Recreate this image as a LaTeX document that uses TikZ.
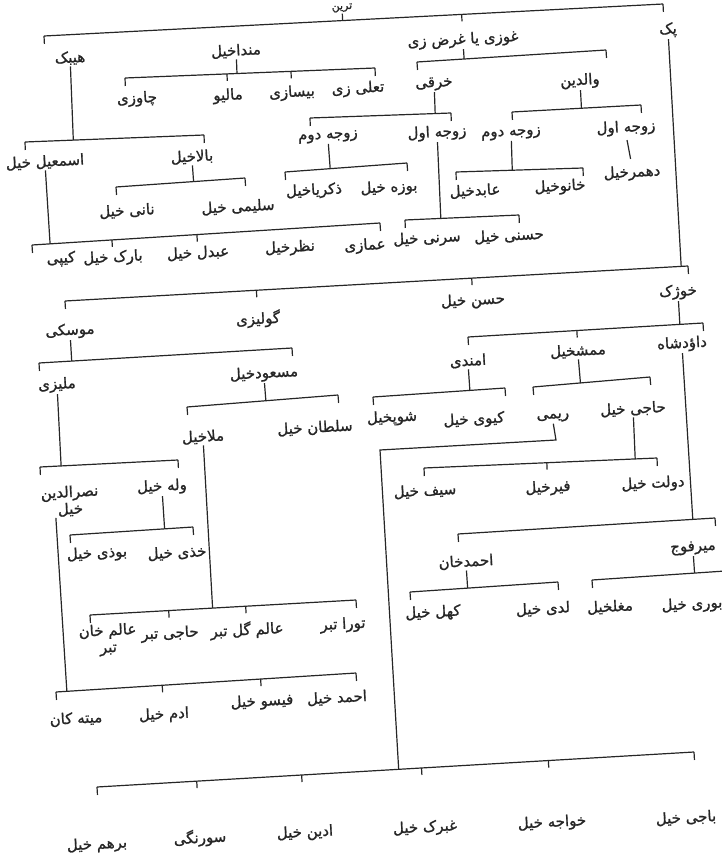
\documentclass[tikz,border=0pt]{standalone}
\usepackage{fontspec}
\usetikzlibrary{calc}
\newfontfamily\arabicfont[Script=Arabic, FakeBold=1.2]{DejaVu Sans}
\TeXXeTstate=1
\definecolor{ink}{gray}{0.15}
\newcommand{\rl}[1]{\beginR#1\endR}
% bar with a hook at each end
\newcommand{\kinbar}[2]{\draw (#1) -- (#2) (#1) -- ($(#1)!8pt!-90:(#2)$) (#2) -- ($(#2)!8pt!90:(#1)$);}
% short tick from the bar down towards a node
\newcommand{\kintick}[3]{\draw ($(#1)!(#3.north)!(#2)$) coordinate (tk) -- ($(tk)!7pt!-90:(#2)$);}
% stem from a node down to the bar
\newcommand{\kinstem}[3]{\draw (#3) -- ($(#1)!(#3)!(#2)$);}

\begin{document}
\begin{tikzpicture}[x=1pt, y=-1pt, line width=1.2pt, color=ink,
    nm/.style={font=\arabicfont\fontsize{15}{17}\selectfont, rotate=3, inner sep=1pt}]
    \useasboundingbox (0,0) rectangle (722,859);

    % top rows
    \node[nm, font=\arabicfont\fontsize{11}{12}\selectfont] (title) at (342,8) {\rl{ترین}};
    \node[nm] (hebak) at (70,58) {\rl{هیبک}};
    \node[nm] (manda) at (236,51) {\rl{منداخیل}};
    \node[nm] (ghozi) at (463,40) {\rl{غوزی یا غرض زی}};
    \node[nm] (pak) at (668,30) {\rl{پک}};
    \coordinate (b0l) at (44,36); \coordinate (b0r) at (663,4);
    \kinbar{b0l}{b0r}
    \kinstem{b0l}{b0r}{title.south}
    \kintick{b0l}{b0r}{ghozi}

    \node[nm] (chawzi) at (137,99) {\rl{چاوزی}};
    \node[nm] (maliw) at (228,96) {\rl{مالیو}};
    \node[nm] (bisazi) at (292,93) {\rl{بیسازی}};
    \node[nm] (taali) at (358,89) {\rl{تعلی زی}};
    \coordinate (bml) at (125,78); \coordinate (bmr) at (375,68);
    \kinbar{bml}{bmr}
    \kinstem{bml}{bmr}{manda.south}
    \kintick{bml}{bmr}{maliw}
    \kintick{bml}{bmr}{bisazi}

    \node[nm] (kharqi) at (434,84) {\rl{خرقی}};
    \node[nm] (walidin) at (580,81) {\rl{والدین}};
    \coordinate (bgl) at (417,62); \coordinate (bgr) at (606,50);
    \kinbar{bgl}{bgr}
    \kinstem{bgl}{bgr}{ghozi.south}

    \node[nm] (zdk) at (328,137) {\rl{زوجه دوم}};
    \node[nm] (zak) at (437,133) {\rl{زوجه اول}};
    \coordinate (bkl) at (310,118); \coordinate (bkr) at (451,113);
    \kinbar{bkl}{bkr}
    \kinstem{bkl}{bkr}{kharqi.south}

    \node[nm] (zdw) at (511,134) {\rl{زوجه دوم}};
    \node[nm] (zaw) at (626,128) {\rl{زوجه اول}};
    \coordinate (bwl) at (512,112); \coordinate (bwr) at (641,105);
    \kinbar{bwl}{bwr}
    \kinstem{bwl}{bwr}{walidin.south}

    \node[nm] (zakar) at (314,191) {\rl{ذکریاخیل}};
    \node[nm] (buza) at (389,188) {\rl{بوزه خیل}};
    \coordinate (bzdkl) at (285,172); \coordinate (bzdkr) at (407,163);
    \kinbar{bzdkl}{bzdkr}
    \kinstem{bzdkl}{bzdkr}{zdk.south}

    \node[nm] (sarni) at (427,239) {\rl{سرنی خیل}};
    \node[nm] (hasani) at (509,236) {\rl{حسنی خیل}};
    \coordinate (bzakl) at (405,220); \coordinate (bzakr) at (519,215);
    \kinbar{bzakl}{bzakr}
    \kinstem{bzakl}{bzakr}{zak.south}

    \node[nm] (abid) at (475,191) {\rl{عابدخیل}};
    \node[nm] (khanu) at (560,187) {\rl{خانوخیل}};
    \coordinate (bzdwl) at (456,172); \coordinate (bzdwr) at (583,168);
    \kinbar{bzdwl}{bzdwr}
    \kinstem{bzdwl}{bzdwr}{zdw.south}

    \node[nm] (dahmar) at (632,173) {\rl{دهمرخیل}};
    \draw[shorten <=3pt, shorten >=5pt] (zaw.south) -- (dahmar.north);

    % hebak
    \node[nm] (isma) at (45,162) {\rl{اسمعیل خیل}};
    \node[nm] (bala) at (192,157) {\rl{بالاخیل}};
    \coordinate (bhl) at (25,142); \coordinate (bhr) at (204,135);
    \kinbar{bhl}{bhr}
    \kinstem{bhl}{bhr}{hebak.south}

    \node[nm] (nani) at (127,211) {\rl{نانی خیل}};
    \node[nm] (salimi) at (238,207) {\rl{سلیمی خیل}};
    \coordinate (bbl) at (116,187); \coordinate (bbr) at (245,178);
    \kinbar{bbl}{bbr}
    \kinstem{bbl}{bbr}{bala.south}

    \node[nm] (kipi) at (61,259) {\rl{کیپی}};
    \node[nm] (barak) at (113,258) {\rl{بارک خیل}};
    \node[nm] (abdal) at (198,253) {\rl{عبدل خیل}};
    \node[nm] (nazar) at (290,248) {\rl{نظرخیل}};
    \node[nm] (amazi) at (365,246) {\rl{عمازی}};
    \coordinate (bil) at (32,245); \coordinate (bir) at (380,223);
    \kinbar{bil}{bir}
    \kinstem{bil}{bir}{isma.south}
    \kintick{bil}{bir}{barak}
    \kintick{bil}{bir}{abdal}

    % second half
    \node[nm] (musaki) at (70,331) {\rl{موسکی}};
    \node[nm] (gulizi) at (258,319) {\rl{گولیزی}};
    \node[nm] (hasan) at (473,301) {\rl{حسن خیل}};
    \node[nm] (khozhak) at (678,292) {\rl{خوژک}};
    \coordinate (b1l) at (65,301); \coordinate (b1r) at (688,266);
    \kinbar{b1l}{b1r}
    \kinstem{b1l}{b1r}{pak.south}
    \kintick{b1l}{b1r}{gulizi}
    \kintick{b1l}{b1r}{hasan}

    \node[nm] (milizi) at (57,385) {\rl{ملیزی}};
    \node[nm] (masud) at (264,374) {\rl{مسعودخیل}};
    \coordinate (bmul) at (39,363); \coordinate (bmur) at (292,348);
    \kinbar{bmul}{bmur}
    \kinstem{bmul}{bmur}{musaki.south}

    \node[nm] (mulla) at (203,437) {\rl{ملاخیل}};
    \node[nm] (sultan) at (315,428) {\rl{سلطان خیل}};
    \coordinate (bmsl) at (187,407); \coordinate (bmsr) at (338,395);
    \kinbar{bmsl}{bmsr}
    \kinstem{bmsl}{bmsr}{masud.south}

    \node[nm] (amandi) at (468,361) {\rl{امندی}};
    \node[nm] (mamash) at (578,351) {\rl{ممشخیل}};
    \node[nm] (dawud) at (682,344) {\rl{داؤدشاه}};
    \coordinate (bkhl) at (468,337); \coordinate (bkhr) at (703,323);
    \kinbar{bkhl}{bkhr}
    \kinstem{bkhl}{bkhr}{khozhak.south}
    \kintick{bkhl}{bkhr}{mamash}

    \node[nm] (shop) at (392,418) {\rl{شوپخیل}};
    \node[nm] (kiwi) at (474,420) {\rl{کیوی خیل}};
    \coordinate (bal) at (373,397); \coordinate (bar) at (505,388);
    \kinbar{bal}{bar}
    \kinstem{bal}{bar}{amandi.south}

    \node[nm] (rimi) at (553,418) {\rl{ریمی}};
    \node[nm] (haji) at (633,409) {\rl{حاجی خیل}};
    \coordinate (bmml) at (533,387); \coordinate (bmmr) at (650,377);
    \kinbar{bmml}{bmmr}
    \kinstem{bmml}{bmmr}{mamash.south}

    \node[nm] (saif) at (425,491) {\rl{سیف خیل}};
    \node[nm] (fir) at (548,488) {\rl{فیرخیل}};
    \node[nm] (dawlat) at (653,484) {\rl{دولت خیل}};
    \coordinate (bhjl) at (424,468); \coordinate (bhjr) at (657,458);
    \kinbar{bhjl}{bhjr}
    \kinstem{bhjl}{bhjr}{haji.south}
    \kintick{bhjl}{bhjr}{fir}

    \node[nm] (ahmadkhan) at (466,562) {\rl{احمدخان}};
    \node[nm] (mirfauj) at (693,548) {\rl{میرفوج}};
    \coordinate (bdl) at (458,534); \coordinate (bdr) at (715,518);
    \kinbar{bdl}{bdr}
    \kinstem{bdl}{bdr}{dawud.south}

    \node[nm] (kahal) at (433,613) {\rl{کهل خیل}};
    \node[nm] (ladi) at (543,609) {\rl{لدی خیل}};
    \coordinate (bakl) at (410,592); \coordinate (bakr) at (558,582);
    \kinbar{bakl}{bakr}
    \kinstem{bakl}{bakr}{ahmadkhan.south}

    \node[nm] (mughal) at (610,607) {\rl{مغلخیل}};
    \node[nm] (buri) at (692,605) {\rl{بوری خیل}};
    \coordinate (bmfl) at (592,580); \coordinate (bmfr) at (740,570);
    \kinbar{bmfl}{bmfr}
    \kinstem{bmfl}{bmfr}{mirfauj.south}

    % malizi
    \node[nm, align=center] (nasr) at (70,501) {\rl{نصرالدین}\\\rl{خیل}};
    \node[nm] (wala) at (162,487) {\rl{وله خیل}};
    \coordinate (bmzl) at (40,467); \coordinate (bmzr) at (178,460);
    \kinbar{bmzl}{bmzr}
    \kinstem{bmzl}{bmzr}{milizi.south}

    \node[nm] (budhi) at (97,554) {\rl{بوذی خیل}};
    \node[nm] (khadhi) at (177,553) {\rl{خذی خیل}};
    \coordinate (bwll) at (70,535); \coordinate (bwlr) at (193,527);
    \kinbar{bwll}{bwlr}
    \kinstem{bwll}{bwlr}{wala.south}

    \node[nm, align=center] (alamkhan) at (108,640) {\rl{عالم خان}\\\rl{تبر}};
    \node[nm] (hajitabar) at (170,634) {\rl{حاجی تبر}};
    \node[nm] (alamgul) at (247,630) {\rl{عالم گل تبر}};
    \node[nm] (tora) at (343,625) {\rl{تورا تبر}};
    \coordinate (bmll) at (90,615); \coordinate (bmlr) at (356,600);
    \kinbar{bmll}{bmlr}
    \kinstem{bmll}{bmlr}{mulla.south}
    \kintick{bmll}{bmlr}{hajitabar}
    \kintick{bmll}{bmlr}{alamgul}

    \node[nm] (mita) at (76,719) {\rl{میته کان}};
    \node[nm] (adam) at (164,715) {\rl{ادم خیل}};
    \node[nm] (faisu) at (262,702) {\rl{فیسو خیل}};
    \node[nm] (ahmadk) at (337,698) {\rl{احمد خیل}};
    \coordinate (bnl) at (56,692); \coordinate (bnr) at (356,673);
    \kinbar{bnl}{bnr}
    \kinstem{bnl}{bnr}{[xshift=-15pt]nasr.south}
    \kintick{bnl}{bnr}{adam}
    \kintick{bnl}{bnr}{faisu}

    % bottom row
    \node[nm] (barham) at (97,845) {\rl{برهم خیل}};
    \node[nm] (surangi) at (200,838) {\rl{سورنگی}};
    \node[nm] (adin) at (305,833) {\rl{ادین خیل}};
    \node[nm] (ghabrak) at (425,828) {\rl{غبرک خیل}};
    \node[nm] (khwaja) at (552,823) {\rl{خواجه خیل}};
    \node[nm] (baji) at (686,818) {\rl{باجی خیل}};
    \coordinate (botl) at (97,787); \coordinate (botr) at (694,752);
    \kinbar{botl}{botr}
    \foreach \k in {surangi, adin, ghabrak, khwaja} {\kintick{botl}{botr}{\k}}
    \coordinate (brl) at (380,450); \coordinate (brr) at (556,440);
    \draw (rimi.south) -- (brr) -- (brl) -- ($(botl)!(brl)!(botr)$);
\end{tikzpicture}
\end{document}
